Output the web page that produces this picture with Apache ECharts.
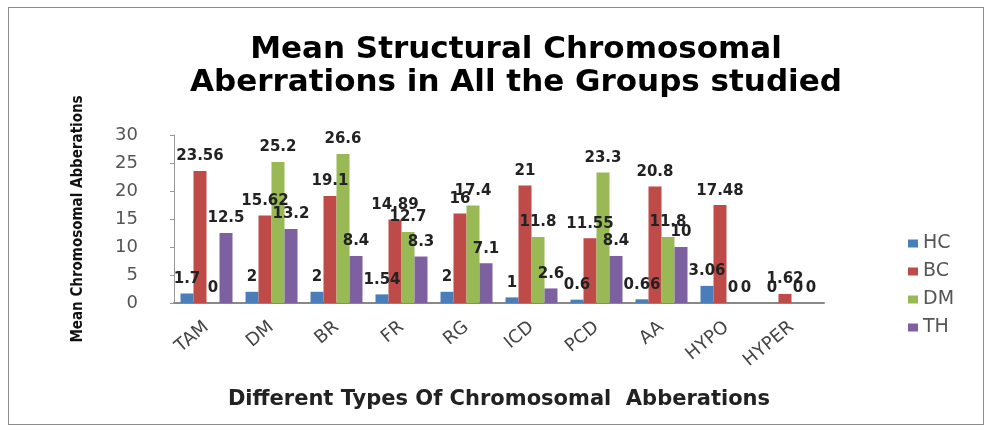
<!DOCTYPE html>
<html>
<head>
<meta charset="utf-8">
<script src="https://cdn.jsdelivr.net/npm/echarts@6/dist/echarts.min.js"></script>
<style>
    html, body {margin: 0; padding: 0; background: #fff;}
    #frame {position: absolute; left: 8px; top: 7px; width: 976px; height: 418px; border: 1px solid #8c8c8c; box-sizing: border-box;}
    #main {position: absolute; left: 0; top: 0; width: 990px; height: 431px;}
</style>
</head>
<body>
<div id="frame"></div>
<div id="main"></div>
<script>
// chart data
const categories = ['TAM', 'DM', 'BR', 'FR', 'RG', 'ICD', 'PCD', 'AA', 'HYPO', 'HYPER'];
const hc = [1.7, 2, 2, 1.54, 2, 1, 0.6, 0.66, 3.06, 0];
const bc = [23.56, 15.62, 19.1, 14.89, 16, 21, 11.55, 20.8, 17.48, 1.62];
const dm = [0, 25.2, 26.6, 12.7, 17.4, 11.8, 23.3, 11.8, 0, 0];
const th = [12.5, 13.2, 8.4, 8.3, 7.1, 2.6, 8.4, 10, 0, 0];
const yTicks = [0, 5, 10, 15, 20, 25, 30];

const seriesDefs = [
    {name: 'HC', data: hc, color: '#4a7ebb'},
    {name: 'BC', data: bc, color: '#be4b48'},
    {name: 'DM', data: dm, color: '#98b954'},
    {name: 'TH', data: th, color: '#7d60a0'}
];

const labelStyle = {
    show: true,
    position: 'top',
    distance: 7,
    fontFamily: 'DejaVu Sans',
    fontWeight: 'bold',
    fontSize: 15,
    color: '#222'
};

const option = {
    animation: false,
    title: {
        text: 'Mean Structural Chromosomal\nAberrations in All the Groups studied',
        left: 511,
        textAlign: 'center',
        top: 28,
        textStyle: {
            fontFamily: 'DejaVu Sans',
            fontWeight: 'bold',
            fontSize: 31,
            lineHeight: 33,
            color: '#000'
        }
    },
    legend: {
        orient: 'vertical',
        left: 903,
        top: 229,
        itemGap: 9,
        itemWidth: 10,
        itemHeight: 8,
        icon: 'rect',
        textStyle: {fontFamily: 'DejaVu Sans', fontSize: 19, color: '#555'},
        data: ['HC', 'BC', 'DM', 'TH']
    },
    grid: {left: 174, right: 166, top: 135, bottom: 128},
    xAxis: {
        type: 'category',
        data: categories,
        name: 'Different Types Of Chromosomal  Abberations',
        nameLocation: 'middle',
        nameGap: 86,
        nameTextStyle: {fontFamily: 'DejaVu Sans', fontWeight: 'bold', fontSize: 21, color: '#222'},
        axisLine: {lineStyle: {color: '#888', width: 2}},
        axisTick: {show: false},
        axisLabel: {
            rotate: 40,
            interval: 0,
            margin: 22,
            fontFamily: 'DejaVu Sans',
            fontSize: 18,
            color: '#444'
        }
    },
    yAxis: {
        type: 'value',
        min: yTicks[0],
        max: yTicks[yTicks.length - 1],
        interval: 5,
        name: 'Mean Chromosomal Abberations',
        nameLocation: 'middle',
        nameGap: 88,
        nameTextStyle: {fontFamily: 'DejaVu Sans Condensed', fontWeight: 'bold', fontSize: 15, color: '#111'},
        splitLine: {show: false},
        axisLine: {show: true, lineStyle: {color: '#999'}},
        axisTick: {show: true, length: 4, lineStyle: {color: '#999'}},
        axisLabel: {fontFamily: 'DejaVu Sans', fontSize: 18, color: '#555', margin: 36}
    },
    series: seriesDefs.map(s => ({
        name: s.name,
        type: 'bar',
        data: s.data,
        barGap: '0%',
        barCategoryGap: '20%',
        itemStyle: {color: s.color},
        label: labelStyle
    }))
};

const myChart = echarts.init(document.getElementById('main'));
myChart.setOption(option);
</script>
</body>
</html>
